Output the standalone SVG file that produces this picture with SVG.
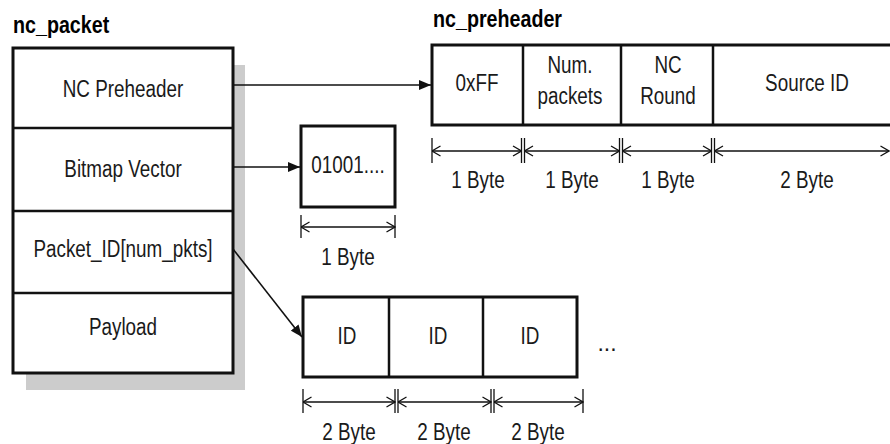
<svg xmlns="http://www.w3.org/2000/svg" width="890" height="444" viewBox="0 0 890 444">
  <style>
    .t { font-family: "Liberation Sans", Arial, sans-serif; font-size: 23px; fill: #1a1a1a; text-anchor: middle; }
    .title { font-family: "Liberation Sans", Arial, sans-serif; font-size: 24px; font-weight: bold; fill: #000; }
    .box { fill: #fff; stroke: #111; stroke-width: 3; }
    .div { stroke: #111; stroke-width: 2.5; fill: none; }
    .conn { stroke: #111; stroke-width: 1.6; fill: none; }
    .dim { stroke: #111; stroke-width: 1.5; fill: none; }
    .tick { stroke: #111; stroke-width: 1.3; fill: none; }
  </style>
  <defs>
    <marker id="solid" viewBox="0 0 12 10" refX="12" refY="5" markerWidth="12" markerHeight="10" markerUnits="userSpaceOnUse" orient="auto">
      <path d="M0,0 L12,5 L0,10 z" fill="#111"/>
    </marker>
    <marker id="open" viewBox="0 0 10 12" refX="9.5" refY="6" markerWidth="10" markerHeight="12" markerUnits="userSpaceOnUse" orient="auto-start-reverse">
      <path d="M1,1 L9.5,6 L1,11" fill="none" stroke="#111" stroke-width="1.3"/>
    </marker>
  </defs>

  <rect x="0" y="0" width="890" height="444" fill="#fff"/>

  <!-- nc_packet -->
  <g id="nc_packet">
    <text class="title" transform="translate(13,33) scale(0.82,1)">nc_packet</text>
    <rect x="26" y="65" width="219" height="325" fill="#cccccc"/>
    <rect class="box" x="13" y="48" width="220" height="325"/>
    <line class="div" x1="13" y1="128" x2="233" y2="128"/>
    <line class="div" x1="13" y1="211" x2="233" y2="211"/>
    <line class="div" x1="13" y1="293" x2="233" y2="293"/>
    <text class="t" transform="translate(123,97) scale(0.82,1)">NC Preheader</text>
    <text class="t" transform="translate(123,177) scale(0.82,1)">Bitmap Vector</text>
    <text class="t" transform="translate(123,257) scale(0.82,1)">Packet_ID[num_pkts]</text>
    <text class="t" transform="translate(123,335) scale(0.82,1)">Payload</text>
  </g>

  <!-- nc_preheader -->
  <g id="nc_preheader">
    <text class="title" transform="translate(433,27) scale(0.82,1)">nc_preheader</text>
    <rect class="box" x="432" y="45" width="480" height="80"/>
    <line class="div" x1="523" y1="45" x2="523" y2="125"/>
    <line class="div" x1="621" y1="45" x2="621" y2="125"/>
    <line class="div" x1="713" y1="45" x2="713" y2="125"/>
    <text class="t" transform="translate(477,91) scale(0.82,1)">0xFF</text>
    <text class="t" transform="translate(570,73) scale(0.82,1)">Num.</text>
    <text class="t" transform="translate(570,104) scale(0.82,1)">packets</text>
    <text class="t" transform="translate(668,73) scale(0.82,1)">NC</text>
    <text class="t" transform="translate(668,104) scale(0.82,1)">Round</text>
    <text class="t" transform="translate(807,91) scale(0.82,1)">Source ID</text>
  </g>

  <!-- bitmap -->
  <g id="bitmap">
    <rect class="box" x="301" y="126" width="94" height="81"/>
    <text class="t" transform="translate(348,173) scale(0.82,1)">01001....</text>
  </g>

  <!-- ids -->
  <g id="packet_ids">
    <rect class="box" x="303" y="297" width="274" height="80"/>
    <line class="div" x1="389" y1="297" x2="389" y2="377"/>
    <line class="div" x1="483" y1="297" x2="483" y2="377"/>
    <text class="t" transform="translate(347,344) scale(0.82,1)">ID</text>
    <text class="t" transform="translate(438,344) scale(0.82,1)">ID</text>
    <text class="t" transform="translate(530,344) scale(0.82,1)">ID</text>
    <text class="t" transform="translate(607,351)">...</text>
  </g>

  <!-- dimensions -->
  <g id="dimensions">
    <path class="tick" d="M432,138 V163 M521.5,138 V163 M524.5,138 V163 M619.5,138 V163 M622.5,138 V163 M711.5,138 V163 M714.5,138 V163"/>
    <line class="dim" x1="432" y1="151" x2="521.5" y2="151" marker-start="url(#open)" marker-end="url(#open)"/>
    <line class="dim" x1="524.5" y1="151" x2="619.5" y2="151" marker-start="url(#open)" marker-end="url(#open)"/>
    <line class="dim" x1="622.5" y1="151" x2="711.5" y2="151" marker-start="url(#open)" marker-end="url(#open)"/>
    <line class="dim" x1="714.5" y1="151" x2="889" y2="151" marker-start="url(#open)" marker-end="url(#open)"/>
    <text class="t" transform="translate(478,188) scale(0.82,1)">1 Byte</text>
    <text class="t" transform="translate(572,188) scale(0.82,1)">1 Byte</text>
    <text class="t" transform="translate(668,188) scale(0.82,1)">1 Byte</text>
    <text class="t" transform="translate(807,188) scale(0.82,1)">2 Byte</text>

    <path class="tick" d="M301,215 V238 M395,215 V238"/>
    <line class="dim" x1="301" y1="227" x2="395" y2="227" marker-start="url(#open)" marker-end="url(#open)"/>
    <text class="t" transform="translate(348,265) scale(0.82,1)">1 Byte</text>

    <path class="tick" d="M303,389 V413 M395,389 V413 M398,389 V413 M491,389 V413 M494,389 V413 M583,389 V413"/>
    <line class="dim" x1="303" y1="402" x2="395" y2="402" marker-start="url(#open)" marker-end="url(#open)"/>
    <line class="dim" x1="398" y1="402" x2="491" y2="402" marker-start="url(#open)" marker-end="url(#open)"/>
    <line class="dim" x1="494" y1="402" x2="583" y2="402" marker-start="url(#open)" marker-end="url(#open)"/>
    <text class="t" transform="translate(349,440) scale(0.82,1)">2 Byte</text>
    <text class="t" transform="translate(444,440) scale(0.82,1)">2 Byte</text>
    <text class="t" transform="translate(538,440) scale(0.82,1)">2 Byte</text>
  </g>

  <!-- connectors -->
  <g id="connectors">
    <line class="conn" x1="233" y1="85" x2="431" y2="85" marker-end="url(#solid)"/>
    <line class="conn" x1="233" y1="167" x2="300" y2="167" marker-end="url(#solid)"/>
    <line class="conn" x1="233" y1="249" x2="302" y2="337" marker-end="url(#solid)"/>
  </g>
</svg>
